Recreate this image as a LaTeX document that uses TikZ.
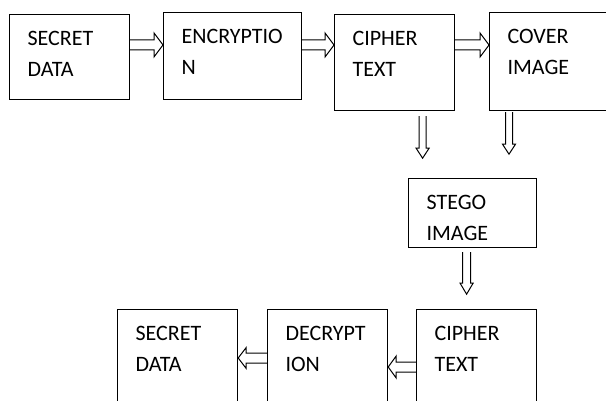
\documentclass[tikz,border=0pt]{standalone}
\usepackage{fontspec}
\setmainfont{Carlito}
\usetikzlibrary{calc}
\usetikzlibrary{positioning}
\tikzset{box/.style = {rectangle, draw, line width=1.2pt, anchor=north west,
    inner xsep=18pt, inner ysep=0pt, align=left, text height=31pt,
    font=\fontsize{22}{31}\selectfont}}
\tikzset{blk/.style n args = {3}{draw, line width=1pt, to path={
    ($(\tikztostart)!#1!90:(\tikztotarget)$)
    -- ($(\tikztotarget)!#3!(\tikztostart)!#1!90:(\tikztotarget)$)
    -- ($(\tikztotarget)!#3!(\tikztostart)!#2!90:(\tikztotarget)$)
    -- (\tikztotarget)
    -- ($(\tikztotarget)!#3!(\tikztostart)!#2!-90:(\tikztotarget)$)
    -- ($(\tikztotarget)!#3!(\tikztostart)!#1!-90:(\tikztotarget)$)
    -- ($(\tikztostart)!#1!-90:(\tikztotarget)$)}}}
\tikzset{rarr/.style = {blk={5pt}{12pt}{9pt}}}
\tikzset{larr/.style = {blk={5pt}{10.5pt}{8pt}}}
\tikzset{darr/.style = {blk={3.5pt}{6.5pt}{10pt}}}

\begin{document}
\begin{tikzpicture}[x=1pt, y=-1pt]
\useasboundingbox (0,0) rectangle (606,401);
\clip (0,0) rectangle (606,401);
% top row
\node [box, text width=84pt, minimum height=85pt, text depth=54pt] (sd1) at (9,14) {SECRET\\DATA};
\node [box, text width=102pt, minimum height=87pt, text depth=56pt] (enc) at (163,12) {ENCRYPTIO\\N};
\node [box, text width=84pt, minimum height=96pt, text depth=65pt] (ct1) at (334,14) {CIPHER\\TEXT};
\node [box, text width=150pt, minimum height=98pt, text depth=67pt] (cov) at (489,12) {COVER\\IMAGE};
% middle
\node [box, text width=92pt, minimum height=69pt, text depth=38pt] (stg) at (408,178) {STEGO\\IMAGE};
% bottom row
\node [box, text width=84pt, minimum height=110pt, text depth=79pt] (ct2) at (416,309) {CIPHER\\TEXT};
\node [box, text width=84pt, minimum height=110pt, text depth=79pt] (dec) at (267,309) {DECRYPT\\ION};
\node [box, text width=84pt, minimum height=110pt, text depth=79pt] (sd2) at (117,309) {SECRET\\DATA};

\coordinate (d1s) at ([shift={(28,5)}]ct1.south);
\coordinate (d1e) at ([shift={(28,47)}]ct1.south);
\coordinate (d2s) at ([shift={(20,1)}]cov.south west);
\coordinate (d2e) at ([shift={(20,43)}]cov.south west);
\coordinate (d3s) at ([shift={(-6,4)}]stg.south);
\coordinate (d3e) at ([shift={(-6,46)}]stg.south);

\draw [rarr] (sd1.east |- 0,45) to (enc.west |- 0,45);
\draw [rarr] (enc.east |- 0,45) to (ct1.west |- 0,45);
\draw [rarr] (ct1.east |- 0,45) to (cov.west |- 0,45);
\draw [darr] (d1s) to (d1e);
\draw [darr] (d2s) to (d2e);
\draw [blk={4pt}{6.5pt}{11pt}] (d3s) to (d3e);
\draw [blk={5pt}{11pt}{8pt}] (ct2.west |- 0,367) to (dec.east |- 0,367);
\draw [larr] (dec.west |- 0,358) to (sd2.east |- 0,358);
\end{tikzpicture}
\end{document}
